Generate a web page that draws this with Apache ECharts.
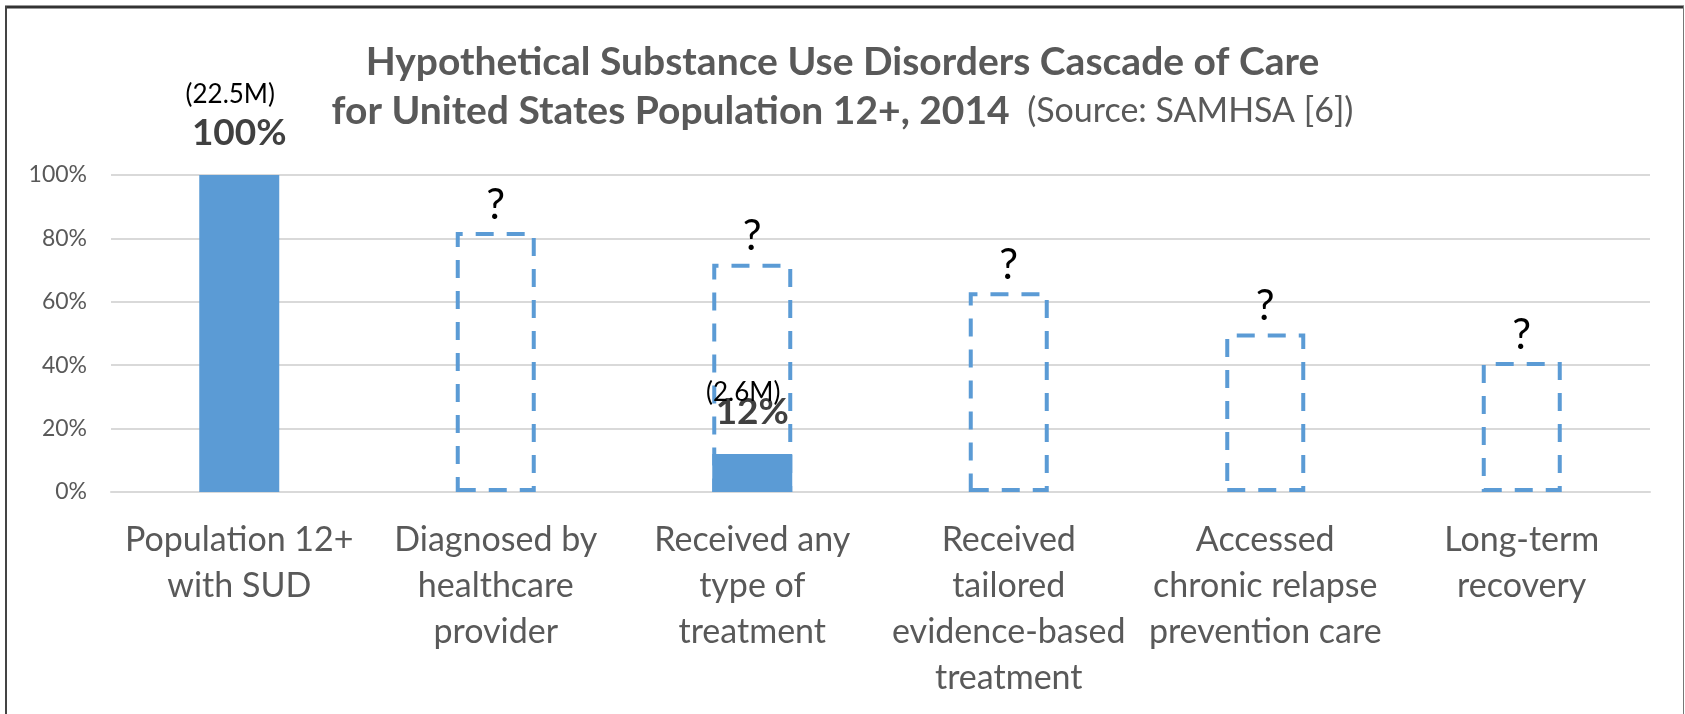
<!DOCTYPE html>
<html>
<head>
<meta charset="utf-8">
<script src="https://cdn.jsdelivr.net/npm/echarts@6/dist/echarts.min.js"></script>
<style>
  html, body { margin: 0; padding: 0; background: #fff; }
  #chart { width: 1685px; height: 714px; }
</style>
</head>
<body>
<div id="chart"></div>
<script>
const categories = [
  'Population 12+\nwith SUD',
  'Diagnosed by\nhealthcare\nprovider',
  'Received any\ntype of\ntreatment',
  'Received\ntailored\nevidence-based\ntreatment',
  'Accessed\nchronic relapse\nprevention care',
  'Long-term\nrecovery'
];
const measuredValues = [100, null, 12, null, null, null];
const measuredCounts = ['(22.5M)', '', '(2.6M)', '', '', ''];
const hypotheticalValues = [null, 82, 72, 63, 50, 41];
const yTicks = [0, 20, 40, 60, 80, 100];

const FONT = 'Lato, "Open Sans", sans-serif';
const BLUE = '#5B9BD5';

const chart = echarts.init(document.getElementById('chart'), null, { renderer: 'canvas' });

const countData = measuredValues.map((v, i) => v == null ? null : {
  value: v,
  label: { distance: v >= 50 ? 66 : 47 }
});

const option = {
  backgroundColor: '#ffffff',
  animation: false,
  title: {
    left: 'center',
    top: 33,
    text: '{b|Hypothetical Substance Use Disorders Cascade of Care}\n{b|for United States Population 12+, 2014}{n|  (Source: SAMHSA [6])}',
    textStyle: {
      rich: {
        b: { fontFamily: FONT, fontWeight: 'bold', fontSize: 39, color: '#595959', lineHeight: 49, align: 'center' },
        n: { fontFamily: FONT, fontWeight: 'normal', fontSize: 34, color: '#595959', lineHeight: 49, align: 'center' }
      }
    }
  },
  graphic: [
    { type: 'line', shape: { x1: 5, y1: 7, x2: 1684, y2: 7 }, style: { stroke: '#333333', lineWidth: 3 } },
    { type: 'line', shape: { x1: 6, y1: 6, x2: 6, y2: 714 }, style: { stroke: '#444444', lineWidth: 2 } },
    { type: 'line', shape: { x1: 1683.5, y1: 6, x2: 1683.5, y2: 714 }, style: { stroke: '#777777', lineWidth: 1 } }
  ],
  grid: { left: 111, right: 35, top: 175, bottom: 222, containLabel: false },
  xAxis: {
    type: 'category',
    data: categories,
    axisTick: { show: false },
    axisLine: { show: true, lineStyle: { color: '#D9D9D9', width: 2 } },
    axisLabel: {
      interval: 0,
      margin: 25,
      fontFamily: FONT,
      fontSize: 34,
      lineHeight: 46,
      color: '#595959'
    }
  },
  yAxis: {
    type: 'value',
    min: 0,
    max: 100,
    interval: 20,
    axisLine: { show: false },
    axisTick: { show: false },
    splitLine: { lineStyle: { color: '#D9D9D9', width: 2 } },
    axisLabel: {
      margin: 24,
      fontFamily: FONT,
      fontSize: 23,
      color: '#595959',
      formatter: v => yTicks.includes(v) ? v + '%' : ''
    }
  },
  series: [
    {
      name: 'Hypothetical',
      type: 'bar',
      data: hypotheticalValues,
      barWidth: 80,
      barGap: '-100%',
      itemStyle: {
        color: 'rgba(0,0,0,0)',
        borderColor: BLUE,
        borderWidth: 4,
        borderType: [18, 13]
      },
      label: {
        show: true,
        position: 'top',
        distance: 5,
        formatter: '?',
        fontFamily: FONT,
        fontSize: 42,
        lineHeight: 44,
        color: '#000000'
      },
      z: 2
    },
    {
      name: 'Measured',
      type: 'bar',
      data: measuredValues,
      barWidth: 80,
      barGap: '-100%',
      itemStyle: { color: BLUE },
      label: {
        show: true,
        position: 'top',
        distance: 22,
        formatter: p => p.value + '%',
        fontFamily: FONT,
        fontWeight: 'bold',
        fontSize: 37,
        lineHeight: 40,
        color: '#404040'
      },
      z: 3
    },
    {
      name: 'Counts',
      type: 'bar',
      data: countData,
      barWidth: 80,
      barGap: '-100%',
      itemStyle: { color: 'rgba(0,0,0,0)' },
      label: {
        show: true,
        position: 'top',
        offset: [-9, 0],
        formatter: p => measuredCounts[p.dataIndex],
        fontFamily: FONT,
        fontSize: 26,
        lineHeight: 28,
        color: '#000000'
      },
      z: 4
    }
  ]
};

chart.setOption(option);
</script>
</body>
</html>
